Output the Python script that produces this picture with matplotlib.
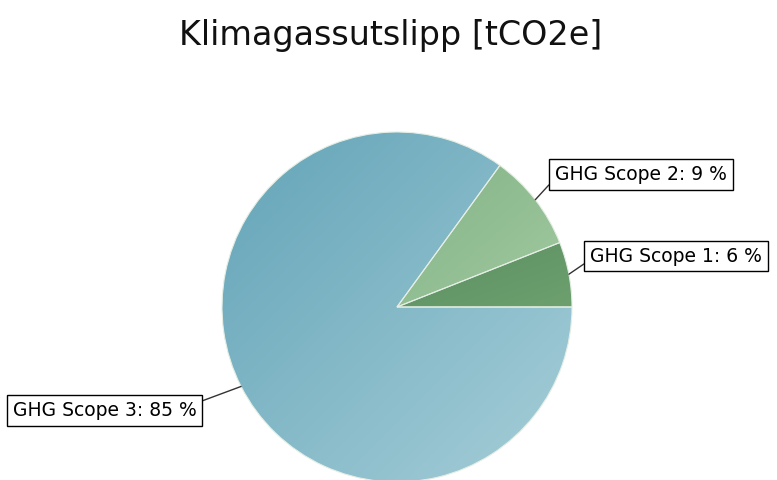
import numpy as np
import matplotlib
matplotlib.use("Agg")
import matplotlib.pyplot as plt
from matplotlib.colors import LinearSegmentedColormap

# data
labels = ["GHG Scope 1", "GHG Scope 2", "GHG Scope 3"]
shares = [6, 9, 85]
# gradient colours (top-left -> bottom-right) for each slice
grad = [("#598f60", "#6ea06f"),
        ("#82b386", "#a2c9a0"),
        ("#63a4b8", "#a6ced8")]
# label box anchors (left, vertical centre) in pixels
label_pos = [(590, 224), (555, 305.5), (13, 69.5)]

fig = plt.figure(figsize=(7.77, 4.8), dpi=100)
ax = fig.add_axes([0, 0, 1, 1])

cx, cy, R = 397, 173, 175
wedges, _ = ax.pie(shares, startangle=0, counterclock=True, radius=R,
                   center=(cx, cy), frame=True,
                   wedgeprops=dict(edgecolor="#e4eee4", linewidth=0.8))
ax.set_xlim(0, 777)
ax.set_ylim(0, 480)
ax.set_aspect("equal")
ax.axis("off")

# fill each slice with a diagonal gradient
for w, (c0, c1) in zip(wedges, grad):
    ext = w.get_path().get_extents()
    x0, y0, x1, y1 = ext.x0, ext.y0, ext.x1, ext.y1
    xs = np.linspace(0, 1, 200)
    ys = np.linspace(0, 1, 200)
    X, Y = np.meshgrid(xs, ys)
    T = (X + Y) / 2.0  # row 0 = top (origin upper)
    cmap = LinearSegmentedColormap.from_list("g", [c0, c1])
    im = ax.imshow(T, cmap=cmap, extent=[x0, x1, y0, y1], origin="upper",
                   interpolation="bilinear", zorder=w.get_zorder() - 0.1,
                   aspect="auto")
    im.set_clip_path(w)
    w.set_facecolor("none")

# labels with leader lines
start = 0.0
total = float(sum(shares))
for lab, val, (tx, ty) in zip(labels, shares, label_pos):
    mid = np.deg2rad(360.0 * (start + val / 2.0) / total)
    start += val
    px, py = cx + R * np.cos(mid), cy + R * np.sin(mid)
    right_side = np.cos(mid) > 0
    ax.annotate(f"{lab}: {val} %", xy=(px, py), xytext=(tx, ty),
                ha="left", va="center", fontsize=13.5,
                bbox=dict(boxstyle="square,pad=0.3", fc="white",
                          ec="black", lw=1),
                arrowprops=dict(arrowstyle="-", color="#333333", lw=1,
                                shrinkA=0, shrinkB=0,
                                relpos=(0, 0.3) if right_side else (1, 0.9)))

fig.text(0.503, 0.925, "Klimagassutslipp [tCO2e]", ha="center", va="center",
         fontsize=24, color="#111111")

fig.savefig("out.png", dpi=100)
